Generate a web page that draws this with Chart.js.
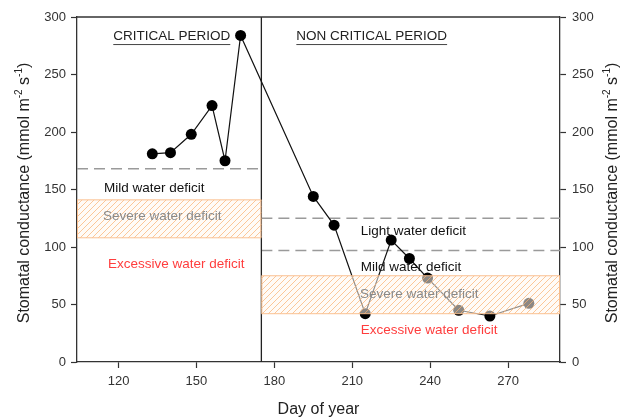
<!DOCTYPE html>
<html>
<head>
<meta charset="utf-8">
<script src="https://cdn.jsdelivr.net/npm/chart.js@4.4.1/dist/chart.umd.min.js"></script>
<style>
  html, body { margin: 0; padding: 0; background: #fff; }
  #wrap { width: 624px; height: 419px; }
</style>
</head>
<body>
<div id="wrap"><canvas id="chart" width="624" height="419"></canvas></div>
<script>
// Stomatal conductance by day of year
const days = [133, 140, 148, 156, 161, 167, 195, 203, 215, 225, 232, 239, 251, 263, 278];
const conductance = [181, 182, 198, 223, 175, 284, 144, 119, 42, 106, 90, 73, 45, 40, 51];

const xTicks = [120, 150, 180, 210, 240, 270];
const yTicks = [0, 50, 100, 150, 200, 250, 300];

const periodSplit = 175;
// threshold lines: [fromDay, toDay, value]
const thresholds = [[104, 174, 168], [175, 290, 125], [175, 290, 97]];
// hatched "severe" bands: [fromDay, toDay, low, high]
const bands = [[104, 175, 108, 141], [175, 290, 42, 75]];

const periodLabels = ["CRITICAL PERIOD", "NON CRITICAL PERIOD"];
const periodAt = [[140.5, 283], [217.5, 283]];

const deficitLabels = ["Mild water deficit", "Severe water deficit", "Excessive water deficit",
                       "Light water deficit", "Mild water deficit", "Severe water deficit", "Excessive water deficit"];
const deficitAt = [[114.4, 151], [114, 126.5], [115.9, 85],
                   [213.3, 113.5], [213.3, 82.5], [213, 59], [213.3, 28]];
const deficitKind = ["mild", "severe", "excessive", "mild", "mild", "severe", "excessive"];

const FONT = "'Liberation Sans', Arial, sans-serif";
const kindColor = { mild: "#111", severe: "#8a8a8a", excessive: "#ff3d3d" };

function makeHatch() {
    const c = document.createElement("canvas");
    c.width = 6; c.height = 6;
    const g = c.getContext("2d");
    g.strokeStyle = "rgba(250,178,115,0.8)";
    g.lineWidth = 0.9;
    g.beginPath();
    g.moveTo(0, 6); g.lineTo(6, 0);
    g.moveTo(-3, 3); g.lineTo(3, -3);
    g.moveTo(3, 9); g.lineTo(9, 3);
    g.stroke();
    return g.createPattern(c, "repeat");
}

const decorations = {
    id: "decorations",
    afterDatasetsDraw(chart) {
        const ctx = chart.ctx;
        const xs = chart.scales.x, ys = chart.scales.y;
        const area = chart.chartArea;
        ctx.save();

        // hatched bands, drawn over the data so points inside look faded
        const hatch = makeHatch();
        bands.forEach(b => {
            const x0 = xs.getPixelForValue(b[0]), x1 = xs.getPixelForValue(b[1]);
            const y0 = ys.getPixelForValue(b[3]), y1 = ys.getPixelForValue(b[2]);
            ctx.fillStyle = "rgba(255,248,240,0.55)";
            ctx.fillRect(x0, y0, x1 - x0, y1 - y0);
            ctx.fillStyle = hatch;
            ctx.fillRect(x0, y0, x1 - x0, y1 - y0);
            ctx.strokeStyle = "rgba(250,190,140,0.95)";
            ctx.lineWidth = 1;
            ctx.strokeRect(x0 + 0.5, y0, x1 - x0 - 1, y1 - y0);
        });

        // top frame line
        ctx.strokeStyle = "#333";
        ctx.lineWidth = 1.3;
        ctx.beginPath();
        ctx.moveTo(area.left, area.top);
        ctx.lineTo(area.right, area.top);
        ctx.stroke();

        // period titles, underlined
        ctx.font = "13.5px " + FONT;
        ctx.fillStyle = "#222";
        ctx.textAlign = "center";
        ctx.textBaseline = "middle";
        periodLabels.forEach((t, i) => {
            const px = xs.getPixelForValue(periodAt[i][0]);
            const py = ys.getPixelForValue(periodAt[i][1]);
            ctx.fillText(t, px, py);
            const w = ctx.measureText(t).width;
            ctx.strokeStyle = "#444";
            ctx.lineWidth = 1;
            ctx.beginPath();
            ctx.moveTo(px - w / 2, py + 8);
            ctx.lineTo(px + w / 2, py + 8);
            ctx.stroke();
        });

        // deficit labels
        ctx.textAlign = "left";
        deficitLabels.forEach((t, i) => {
            ctx.fillStyle = kindColor[deficitKind[i]];
            ctx.fillText(t, xs.getPixelForValue(deficitAt[i][0]), ys.getPixelForValue(deficitAt[i][1]));
        });
        ctx.restore();
    },
    afterDraw(chart) {
        // rotated axis titles with superscripts
        const ctx = chart.ctx;
        const mid = 193;
        [25, 613].forEach(cx => {
            ctx.save();
            ctx.translate(cx, mid);
            ctx.rotate(-Math.PI / 2);
            ctx.fillStyle = "#222";
            ctx.textBaseline = "middle";
            const parts = [["Stomatal conductance (mmol m", 0], ["-2", 1], [" s", 0], ["-1", 1], [")", 0]];
            let total = 0;
            parts.forEach(p => {
                ctx.font = (p[1] ? "10px " : "16px ") + FONT;
                total += ctx.measureText(p[0]).width;
            });
            let x = -total / 2;
            ctx.textAlign = "left";
            parts.forEach(p => {
                ctx.font = (p[1] ? "10px " : "16px ") + FONT;
                ctx.fillText(p[0], x, p[1] ? -6 : 0);
                x += ctx.measureText(p[0]).width;
            });
            ctx.restore();
        });
    }
};

const seriesPoints = days.map((d, i) => ({ x: d, y: conductance[i] }));

const datasets = [
    {
        data: seriesPoints,
        borderColor: "#111",
        backgroundColor: "#000",
        borderWidth: 1.2,
        pointRadius: 5.5,
        pointBorderWidth: 0,
        tension: 0
    },
    {
        data: [{ x: periodSplit, y: 0 }, { x: periodSplit, y: 300 }],
        borderColor: "#222",
        borderWidth: 1.3,
        pointRadius: 0
    }
];
thresholds.forEach(t => {
    datasets.push({
        data: [{ x: t[0], y: t[2] }, { x: t[1], y: t[2] }],
        borderColor: "#9a9a9a",
        borderWidth: 1.5,
        borderDash: [11, 6],
        pointRadius: 0
    });
});

function fixTicks(list) {
    return scale => { scale.ticks = list.map(v => ({ value: v })); };
}

new Chart(document.getElementById("chart"), {
    type: "line",
    data: { datasets: datasets },
    options: {
        responsive: false,
        animation: false,
        layout: { padding: { top: 17, right: 0, bottom: 0, left: 0 } },
        plugins: { legend: { display: false }, tooltip: { enabled: false } },
        scales: {
            x: {
                type: "linear",
                min: 104, max: 290,
                afterBuildTicks: fixTicks(xTicks),
                afterFit: s => { s.height = 57; },
                grid: { drawOnChartArea: false, tickLength: 6, tickColor: "#333", tickWidth: 1.2 },
                border: { color: "#333", width: 1.3 },
                ticks: { color: "#333", font: { family: FONT, size: 13 }, padding: 6 },
                title: { display: true, text: "Day of year", color: "#222", font: { family: FONT, size: 16 }, padding: { top: 0, bottom: 0 } }
            },
            y: {
                position: "left",
                min: 0, max: 300,
                afterBuildTicks: fixTicks(yTicks),
                afterFit: s => { s.width = 77; },
                grid: { drawOnChartArea: false, tickLength: 6, tickColor: "#333", tickWidth: 1.2 },
                border: { color: "#333", width: 1.3 },
                ticks: { color: "#333", font: { family: FONT, size: 13 }, padding: 5 }
            },
            y2: {
                position: "right",
                min: 0, max: 300,
                afterBuildTicks: fixTicks(yTicks),
                afterFit: s => { s.width = 64; },
                grid: { drawOnChartArea: false, tickLength: 6, tickColor: "#333", tickWidth: 1.2 },
                border: { color: "#333", width: 1.3 },
                ticks: { color: "#333", font: { family: FONT, size: 13 }, padding: 6 }
            }
        }
    },
    plugins: [decorations]
});
</script>
</body>
</html>
